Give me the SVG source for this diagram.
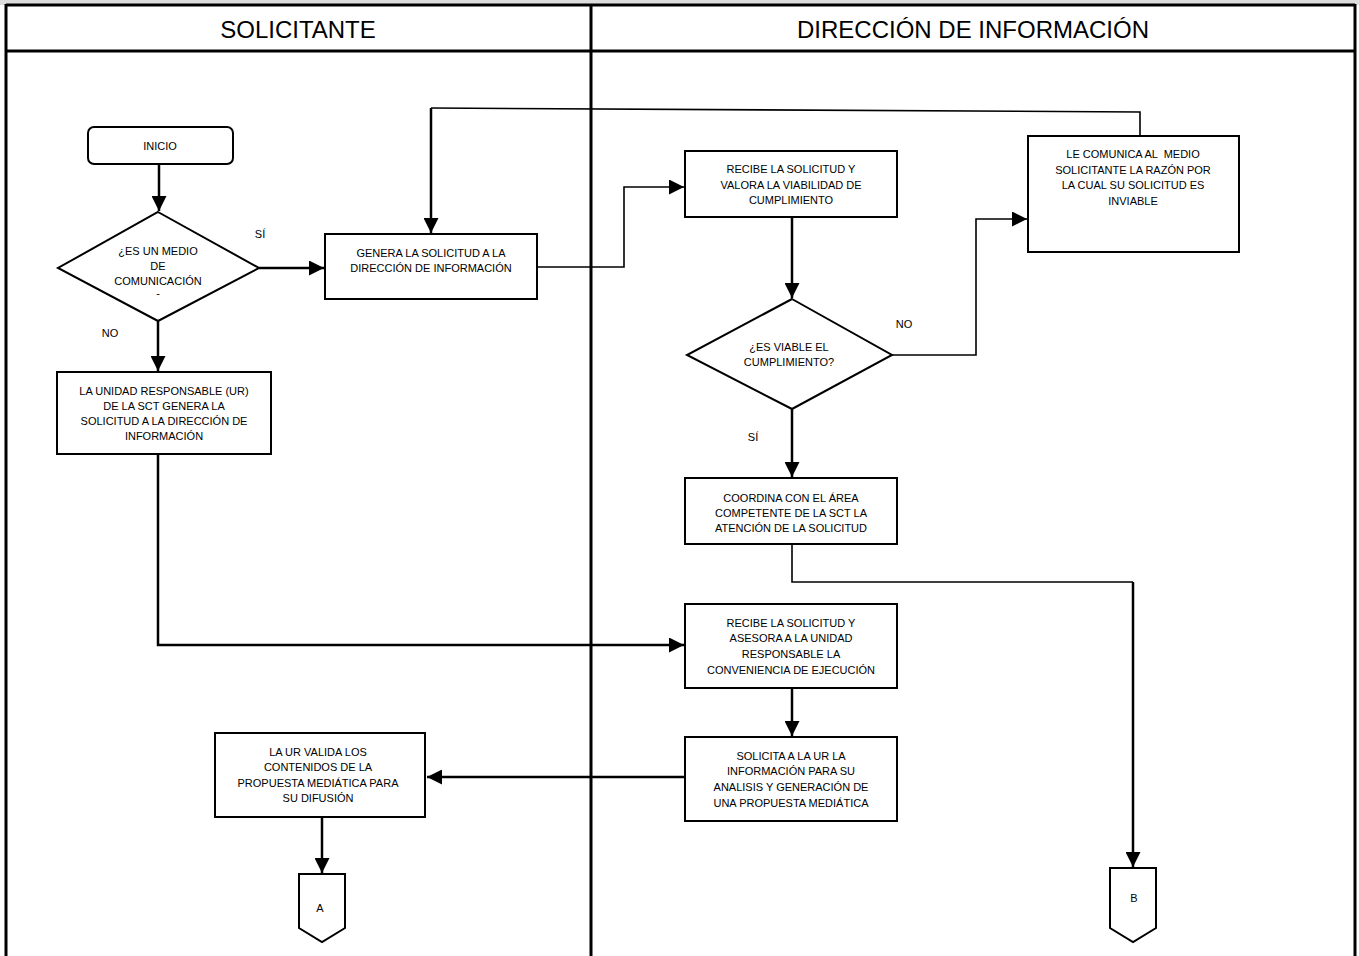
<svg xmlns="http://www.w3.org/2000/svg" width="1359" height="956" viewBox="0 0 1359 956">
<defs>
<marker id="arr" markerUnits="userSpaceOnUse" markerWidth="17" markerHeight="15" refX="15" refY="7.5" orient="auto">
<path d="M0,0 L15,7.5 L0,15 z" fill="#000"/>
</marker>
<style>
.lane{stroke:#000;stroke-width:3;fill:none}
.box{fill:#fff;stroke:#000;stroke-width:2}
.t{font-family:"Liberation Sans",Arial,sans-serif;font-size:11px;fill:#000;text-anchor:middle}
.h{font-family:"Liberation Sans",Arial,sans-serif;font-size:24px;fill:#000;text-anchor:middle}
.c{fill:none;stroke:#000;stroke-width:2.5}
.cn{fill:none;stroke:#000;stroke-width:1.6}
</style>
</defs>
<rect width="1359" height="956" fill="#fff"/>
<rect x="0" y="0" width="1359" height="5" fill="#ddd"/>
<g id="lanes">
<line class="lane" x1="6" y1="5" x2="1355" y2="5"/>
<line class="lane" x1="6" y1="51" x2="1355" y2="51"/>
<line class="lane" x1="6" y1="4" x2="6" y2="956"/>
<line class="lane" x1="1355" y1="4" x2="1355" y2="956"/>
<line class="lane" x1="591" y1="5" x2="591" y2="956"/>
<text class="h" x="298" y="38">SOLICITANTE</text>
<text class="h" x="973" y="38">DIRECCIÓN DE INFORMACIÓN</text>
</g>
<g id="connectors">
<path class="c" d="M159,164 V211" marker-end="url(#arr)"/>
<path class="c" d="M259,268 H324" marker-end="url(#arr)"/>
<path class="c" d="M158,321 V371" marker-end="url(#arr)"/>
<path class="cn" d="M537,267 H624 V187 H684" marker-end="url(#arr)"/>
<path class="c" d="M792,217 V298" marker-end="url(#arr)"/>
<path class="cn" d="M892,355 H976 V219 H1027" marker-end="url(#arr)"/>
<path class="cn" d="M1140,136 V112 L431,108"/>
<path class="c" d="M431,108 V233" marker-end="url(#arr)"/>
<path class="c" d="M792,409 V477" marker-end="url(#arr)"/>
<path class="cn" d="M792,544 V582 H1133"/>
<path class="c" d="M1133,582 V867" marker-end="url(#arr)"/>
<path class="c" d="M158,454 V645 H684" marker-end="url(#arr)"/>
<path class="c" d="M792,688 V736" marker-end="url(#arr)"/>
<path class="c" d="M685,777 H427" marker-end="url(#arr)"/>
<path class="c" d="M322,817 V873" marker-end="url(#arr)"/>
<text class="t" x="260" y="238">SÍ</text>
<text class="t" x="110" y="337">NO</text>
<text class="t" x="904" y="328">NO</text>
<text class="t" x="753" y="441">SÍ</text>
</g>
<g id="inicio">
<rect class="box" x="88" y="127" width="145" height="37" rx="6"/>
<text class="t" x="160" y="150">INICIO</text>
</g>
<g id="d1">
<polygon class="box" points="158,212 259,268 158,321 58,268"/>
<text class="t" x="158" y="255">¿ES UN MEDIO</text>
<text class="t" x="158" y="270">DE</text>
<text class="t" x="158" y="285">COMUNICACIÓN</text>
<text class="t" x="158" y="297">-</text>
</g>
<g id="genera">
<rect class="box" x="325" y="234" width="212" height="65"/>
<text class="t" x="431" y="257">GENERA LA SOLICITUD A LA</text>
<text class="t" x="431" y="272">DIRECCIÓN DE INFORMACIÓN</text>
</g>
<g id="recibe1">
<rect class="box" x="685" y="151" width="212" height="66"/>
<text class="t" x="791" y="173">RECIBE LA SOLICITUD Y</text>
<text class="t" x="791" y="189">VALORA LA VIABILIDAD DE</text>
<text class="t" x="791" y="204">CUMPLIMIENTO</text>
</g>
<g id="lecomunica">
<rect class="box" x="1028" y="136" width="211" height="116"/>
<text class="t" x="1133" y="158" xml:space="preserve">LE COMUNICA AL  MEDIO</text>
<text class="t" x="1133" y="174">SOLICITANTE LA RAZÓN POR</text>
<text class="t" x="1133" y="189">LA CUAL SU SOLICITUD ES</text>
<text class="t" x="1133" y="205">INVIABLE</text>
</g>
<g id="d2">
<polygon class="box" points="792,299 892,355 792,409 687,355"/>
<text class="t" x="789" y="351">¿ES VIABLE EL</text>
<text class="t" x="789" y="366">CUMPLIMIENTO?</text>
</g>
<g id="coordina">
<rect class="box" x="685" y="478" width="212" height="66"/>
<text class="t" x="791" y="502">COORDINA CON EL ÁREA</text>
<text class="t" x="791" y="517">COMPETENTE DE LA SCT LA</text>
<text class="t" x="791" y="532">ATENCIÓN DE LA SOLICITUD</text>
</g>
<g id="launidad">
<rect class="box" x="57" y="372" width="214" height="82"/>
<text class="t" x="164" y="395">LA UNIDAD RESPONSABLE (UR)</text>
<text class="t" x="164" y="410">DE LA SCT GENERA LA</text>
<text class="t" x="164" y="425">SOLICITUD A LA DIRECCIÓN DE</text>
<text class="t" x="164" y="440">INFORMACIÓN</text>
</g>
<g id="recibe2">
<rect class="box" x="685" y="604" width="212" height="84"/>
<text class="t" x="791" y="627">RECIBE LA SOLICITUD Y</text>
<text class="t" x="791" y="642">ASESORA A LA UNIDAD</text>
<text class="t" x="791" y="658">RESPONSABLE LA</text>
<text class="t" x="791" y="674">CONVENIENCIA DE EJECUCIÓN</text>
</g>
<g id="solicita">
<rect class="box" x="685" y="737" width="212" height="84"/>
<text class="t" x="791" y="760">SOLICITA A LA UR LA</text>
<text class="t" x="791" y="775">INFORMACIÓN PARA SU</text>
<text class="t" x="791" y="791">ANALISIS Y GENERACIÓN DE</text>
<text class="t" x="791" y="807">UNA PROPUESTA MEDIÁTICA</text>
</g>
<g id="laur">
<rect class="box" x="215" y="733" width="210" height="84"/>
<text class="t" x="318" y="756">LA UR VALIDA LOS</text>
<text class="t" x="318" y="771">CONTENIDOS DE LA</text>
<text class="t" x="318" y="787">PROPUESTA MEDIÁTICA PARA</text>
<text class="t" x="318" y="802">SU DIFUSIÓN</text>
</g>
<g id="connA">
<polygon class="box" points="299,874 345,874 345,928 322,942 299,928"/>
<text class="t" x="320" y="912">A</text>
</g>
<g id="connB">
<polygon class="box" points="1110,868 1156,868 1156,928 1133,942 1110,928"/>
<text class="t" x="1134" y="902">B</text>
</g>
</svg>
